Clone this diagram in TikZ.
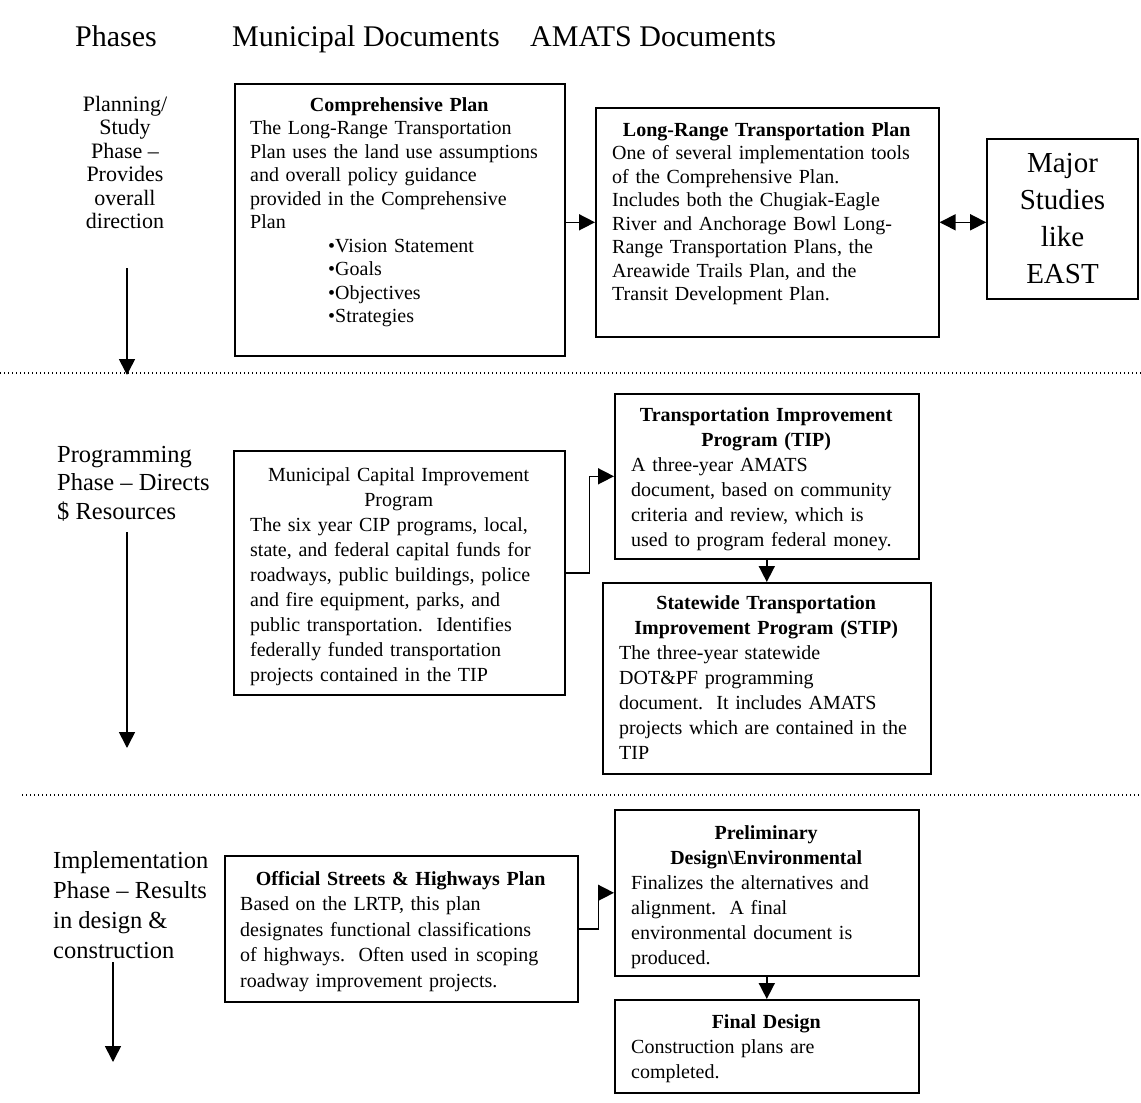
\documentclass[tikz,border=0pt]{standalone}
\usepackage{fontspec}
\setmainfont{Liberation Serif}
\usetikzlibrary{arrows.meta}
\tikzset{
  box/.style={draw, line width=1.6pt, inner sep=0pt, anchor=north west},
  txt/.style={anchor=north west, inner sep=0pt, align=left},
  arr/.style={line width=1.6pt, -{Triangle[length=16pt,width=16pt]}},
  darr/.style={line width=1.6pt, {Triangle[length=16pt,width=16pt]}-{Triangle[length=16pt,width=16pt]}},
  dotline/.style={line width=1.3pt, dash pattern=on 1.3pt off 2.7pt},
  head/.style={anchor=base west, inner sep=0pt, font=\fontsize{30}{36}\selectfont},
}
\newcommand{\bl}[1]{\makebox[\linewidth][l]{#1}}
\newcommand{\tb}[1]{\makebox[\linewidth][c]{\bfseries #1}}
\newcommand{\tn}[1]{\makebox[\linewidth][c]{#1}}
\newcommand{\st}{\rule{0pt}{15pt}}
\begin{document}
\begin{tikzpicture}[x=1pt,y=-1pt]
\useasboundingbox (0,0) rectangle (1141,1103);
\fill[white] (0,0) rectangle (1141,1103);

% headers
\node[head] (h1) at (75,46) {Phases};
\node[head] (h2) at (232,46) {Municipal Documents};
\node[head] (h3) at (530,46) {AMATS Documents};

% dotted separators
\coordinate (d1a) at (0,373);  \coordinate (d1b) at (1141,373);
\coordinate (d2a) at (22,795); \coordinate (d2b) at (1141,795);
\draw[dotline] (d1a) -- (d1b);
\draw[dotline] (d2a) -- (d2b);

% phase labels
\node[anchor=north, inner sep=0pt, align=center, font=\fontsize{22}{23.4}\selectfont] (p1) at (125,96)
  {\st Planning/\\Study\\Phase --\\Provides\\overall\\direction};
\node[txt, font=\fontsize{24.5}{28.5}\selectfont] (p2) at (57,446)
  {\st Programming\\Phase -- Directs\\\$ Resources};
\node[txt, font=\fontsize{24.5}{30}\selectfont] (p3) at (53,851)
  {\st Implementation\\Phase -- Results\\in design \&\\construction};

\coordinate (a1s) at (127,268); \coordinate (a1e) at (127,375);
\coordinate (a2s) at (127,532); \coordinate (a2e) at (127,748);
\coordinate (a3s) at (113,962); \coordinate (a3e) at (113,1062);
\draw[arr] (a1s) -- (a1e);
\draw[arr] (a2s) -- (a2e);
\draw[arr] (a3s) -- (a3e);

% ---------- Phase 1 ----------
\node[box, minimum width=330pt, minimum height=272pt] (b1) at (234,83) {};
\node[txt, text width=298pt, font=\fontsize{20}{23.5}\selectfont] (b1t) at (250,96) {%
\tb{\st Comprehensive Plan}\\
\bl{The Long-Range Transportation}\\
\bl{Plan uses the land use assumptions}\\
\bl{and overall policy guidance}\\
\bl{provided in the Comprehensive}\\
\bl{Plan}\\
\bl{\hspace{78pt}•Vision Statement}\\
\bl{\hspace{78pt}•Goals}\\
\bl{\hspace{78pt}•Objectives}\\
\bl{\hspace{78pt}•Strategies}};

\node[box, minimum width=343pt, minimum height=229pt] (b2) at (595,107) {};
\node[txt, text width=309pt, font=\fontsize{20}{23.5}\selectfont] (b2t) at (612,121) {%
\tb{\st Long-Range Transportation Plan}\\
\bl{One of several implementation tools}\\
\bl{of the Comprehensive Plan.}\\
\bl{Includes both the Chugiak-Eagle}\\
\bl{River and Anchorage Bowl Long-}\\
\bl{Range Transportation Plans, the}\\
\bl{Areawide Trails Plan, and the}\\
\bl{Transit Development Plan.}};

\node[draw, line width=1.6pt, minimum width=151pt, minimum height=160pt, align=center,
      font=\fontsize{29}{37}\selectfont] (b3) at (1062.5,219) {Major\\Studies\\like\\EAST};

\draw[arr] (b1.east |- b2.west) -- (b2.west);
\draw[darr] (b2.east) -- (b2.east -| b3.west);

% ---------- Phase 2 ----------
\node[box, minimum width=331pt, minimum height=244pt] (b4) at (233,450) {};
\node[txt, text width=297pt, font=\fontsize{20}{25}\selectfont] (b4t) at (250,466) {%
\tn{\st Municipal Capital Improvement}\\
\tn{Program}\\
\bl{The six year CIP programs, local,}\\
\bl{state, and federal capital funds for}\\
\bl{roadways, public buildings, police}\\
\bl{and fire equipment, parks, and}\\
\bl{public transportation.\ \ Identifies}\\
\bl{federally funded transportation}\\
\bl{projects contained in the TIP}};

\node[box, minimum width=304pt, minimum height=165pt] (b5) at (614,393) {};
\node[txt, text width=270pt, font=\fontsize{20}{25}\selectfont] (b5t) at (631,406) {%
\tb{\st Transportation Improvement}\\
\tb{Program (TIP)}\\
\bl{A three-year AMATS}\\
\bl{document, based on community}\\
\bl{criteria and review, which is}\\
\bl{used to program federal money.}};

\node[box, minimum width=328pt, minimum height=191pt] (b6) at (602,582) {};
\node[txt, text width=294pt, font=\fontsize{20}{25}\selectfont] (b6t) at (619,594) {%
\tb{\st Statewide Transportation}\\
\tb{Improvement Program (STIP)}\\
\bl{The three-year statewide}\\
\bl{DOT\&PF programming}\\
\bl{document.\ \ It includes AMATS}\\
\bl{projects which are contained in the}\\
\bl{TIP}};

\draw[arr] (b4.east) -- ++(24,0) |- (b5.west);
\draw[arr] (b5.south) -- (b6.north);

% ---------- Phase 3 ----------
\node[box, minimum width=353pt, minimum height=146pt] (b7) at (224,855) {};
\node[txt, text width=321pt, font=\fontsize{20}{25.5}\selectfont] (b7t) at (240,870) {%
\tb{\st Official Streets \& Highways Plan}\\
\bl{Based on the LRTP, this plan}\\
\bl{designates functional classifications}\\
\bl{of highways.\ \ Often used in scoping}\\
\bl{roadway improvement projects.}};

\node[box, minimum width=304pt, minimum height=166pt] (b8) at (614,809) {};
\node[txt, text width=270pt, font=\fontsize{20}{25}\selectfont] (b8t) at (631,824) {%
\tb{\st Preliminary}\\
\tb{Design\textbackslash Environmental}\\
\bl{Finalizes the alternatives and}\\
\bl{alignment.\ \ A final}\\
\bl{environmental document is}\\
\bl{produced.}};

\node[box, minimum width=304pt, minimum height=93pt] (b9) at (614,999) {};
\node[txt, text width=270pt, font=\fontsize{20}{25}\selectfont] (b9t) at (631,1013) {%
\tb{\st Final Design}\\
\bl{Construction plans are}\\
\bl{completed.}};

\draw[arr] (b7.east) -- ++(20,0) |- (b8.west);
\draw[arr] (b8.south) -- (b9.north);
\end{tikzpicture}
\end{document}
